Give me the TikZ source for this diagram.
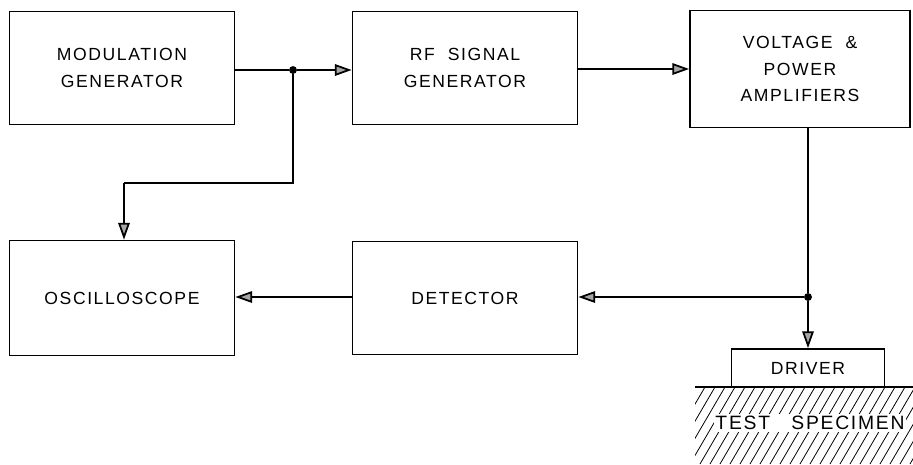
\documentclass[tikz,border=0pt]{standalone}
\usepackage{fontspec}
\setmainfont{Liberation Sans}[LetterSpace=9]
\usetikzlibrary{arrows.meta,positioning}

\tikzset{
  block/.style={draw,line width=1pt,minimum width=225\px,minimum height=113\px,align=center,font=\fontsize{10}{15}\selectfont},
  sig/.style={line width=1pt,-{Triangle[length=9.5pt,width=6.5pt,fill=gray!70]}},
  dot/.style={circle,fill,inner sep=0pt,minimum size=4.5pt}
}
\newlength{\px}
\setlength{\px}{0.02cm}

\begin{document}
\begin{tikzpicture}[x=0.02cm,y=-0.02cm]
        \useasboundingbox (0,0) rectangle (913,464);

        % Blocks
        \node[block] (modgen) at (122,68) {MODULATION\\GENERATOR};
        \node[block] (rfgen) at (465,68) {RF\ \ SIGNAL\\GENERATOR};
        \node[block,minimum width=220\px,minimum height=117\px] (amp) at (800,69) {VOLTAGE\ \ \&\\POWER\\AMPLIFIERS};
        \node[block,minimum height=115\px] (scope) at (122,298) {OSCILLOSCOPE};
        \node[block] (det) at (465,298) {DETECTOR};
        \node[draw,line width=1pt,minimum width=153\px,minimum height=38\px,font=\fontsize{10}{12}\selectfont] (drv) at (808,368) {DRIVER};

        % Test specimen hatching
        \begin{scope}
          \clip (695,387) rectangle (913,464);
          \foreach \k in {0,10,...,280}
            \draw[line width=0.45pt] (695+\k-45,464) -- (695+\k,387);
        \end{scope}
        \draw[line width=1pt] (695,387) -- (913,387);
        \node[fill=white,inner sep=1pt,font=\fontsize{11}{12}\selectfont] (spec) at (810,423) {TEST\ \ \ SPECIMEN};

        % Junctions
        \node[dot] (j1) at (293,70) {};
        \node[dot] (j2) at (808,297) {};
        \coordinate (c1) at (293,183);
        \coordinate (c2) at (124,183);

        % Signal paths
        \draw[line width=1pt] (modgen.east |- j1) -- (j1);
        \draw[sig] (j1) -- (rfgen.west |- j1);
        \draw[sig] (rfgen.east |- 0,69) -- (amp.west |- 0,69);
        \draw[line width=1pt] (j1) -- (c1) -- (c2);
        \draw[sig] (c2) -- (scope.north -| c2);
        \draw[line width=1pt] (amp.south -| j2) -- (j2);
        \draw[sig] (j2) -- (drv.north -| j2);
        \draw[sig] (j2) -- (det.east |- j2);
        \draw[sig] (det.west |- j2) -- (scope.east |- j2);
      \end{tikzpicture}
\end{document}
